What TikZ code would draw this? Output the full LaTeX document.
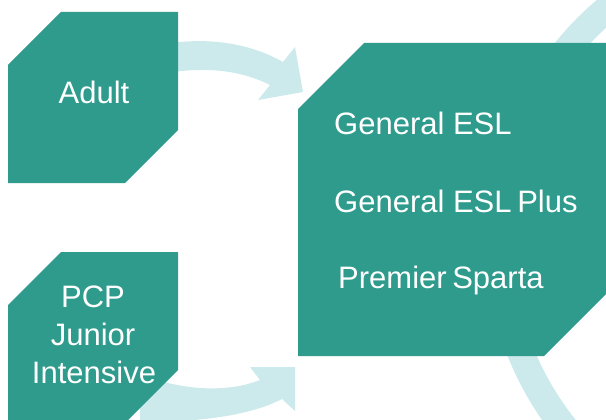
\documentclass[tikz,border=0pt]{standalone}
\usepackage{fontspec}
\setmainfont{Liberation Sans}
\definecolor{tealbox}{RGB}{46,155,141}
\definecolor{paleflow}{RGB}{204,234,236}
\begin{document}
\begin{tikzpicture}[x=1pt,y=-1pt,
  box/.style={fill=tealbox},
  flow/.style={fill=paleflow},
  lbl/.style={text=white,font=\fontsize{31}{38}\selectfont,inner sep=0pt}]
\useasboundingbox (0,0) rectangle (606,420);
\clip (0,0) rectangle (606,420);
% ring behind the big box
\draw[paleflow,line width=27pt] (800,240) circle (301);
% curved arrow from Adult
\fill[flow] (160,45) .. controls (205,36) and (250,43) .. (283,62) -- (295,47) -- (303,92) -- (258,100) -- (270,85) .. controls (240,70) and (205,66) .. (160,74) -- cycle;
% curved arrow from PCP
\fill[flow] (140,374) .. controls (185,392) and (230,392) .. (260,380) -- (250,367) -- (295,367) -- (295,411) -- (282,399) .. controls (250,416) and (190,424) .. (140,420) -- cycle;
% boxes
\fill[box] (8,65) -- (61,12) -- (178,12) -- (178,130) -- (125,183) -- (8,183) -- cycle;
\fill[box] (8,305) -- (61,252) -- (178,252) -- (178,370) -- (125,423) -- (8,423) -- cycle;
\fill[box] (298,109) -- (364,43) -- (610,43) -- (610,290) -- (544,356) -- (298,356) -- cycle;
% labels
\node[lbl,anchor=base] (adult) at (94,103) {Adult};
\node[lbl,anchor=base] (pcp1) at (93,307) {PCP};
\node[lbl,anchor=base] (pcp2) at (93,345) {Junior};
\node[lbl,anchor=base] (pcp3) at (94,383) {Intensive};
\node[lbl,anchor=base west] (gesl) at (334,135) {General ESL};
\node[lbl,anchor=base west] (geslp) at (334,212) {General ESL\hspace{-3pt} Plus};
\node[lbl,anchor=base west] (prem) at (338,288) {Premier\hspace{-3pt} Sparta};
\end{tikzpicture}
\end{document}
